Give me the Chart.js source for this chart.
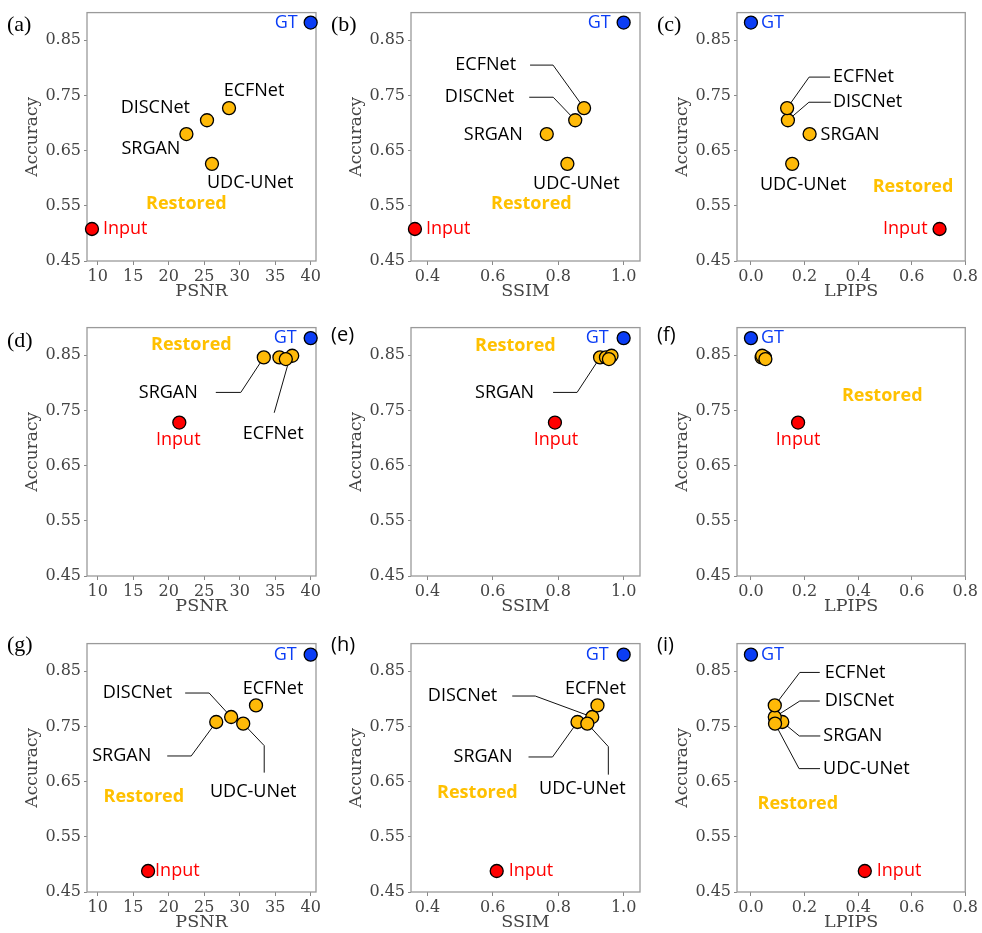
<!DOCTYPE html>
<html><head><meta charset="utf-8">
<script src="https://cdn.jsdelivr.net/npm/chart.js@4.4.1/dist/chart.umd.min.js"></script>
<style>
html,body{margin:0;padding:0;background:#fff;overflow:hidden;width:982px;height:933px;position:relative;}
canvas{position:absolute;}
</style></head><body>
<canvas id="pa" width="330" height="302" style="left:0px;top:0px"></canvas>
<canvas id="pb" width="330" height="302" style="left:324px;top:0px"></canvas>
<canvas id="pc" width="330" height="302" style="left:650px;top:0px"></canvas>
<canvas id="pd" width="330" height="302" style="left:0px;top:315px"></canvas>
<canvas id="pe" width="330" height="302" style="left:324px;top:315px"></canvas>
<canvas id="pf" width="330" height="302" style="left:650px;top:315px"></canvas>
<canvas id="pg" width="330" height="302" style="left:0px;top:631px"></canvas>
<canvas id="ph" width="330" height="302" style="left:324px;top:631px"></canvas>
<canvas id="pi" width="330" height="302" style="left:650px;top:631px"></canvas>
<script>
// ---------------- DATA ----------------
const methods = ['SRGAN', 'DISCNet', 'ECFNet', 'UDC-UNet'];

// Row 1 (a,b,c)
const accRestored1 = [0.680, 0.705, 0.727, 0.626];
const accInput1 = 0.508, accGT1 = 0.882;
const psnrRestored1 = [22.5, 25.4, 28.5, 26.1];
const psnrInput1 = 9.2, psnrGT1 = 40;
const ssimRestored1 = [0.765, 0.852, 0.879, 0.828];
const ssimInput1 = 0.362, ssimGT1 = 1.0;
const lpipsRestored1 = [0.219, 0.138, 0.135, 0.154];
const lpipsInput1 = 0.704, lpipsGT1 = 0.0;

// Row 2 (d,e,f)
const accRestored2 = [0.846, 0.846, 0.849, 0.843];
const accInput2 = 0.728, accGT2 = 0.881;
const psnrRestored2 = [33.4, 35.6, 37.4, 36.5];
const psnrInput2 = 21.5, psnrGT2 = 40;
const ssimRestored2 = [0.928, 0.946, 0.963, 0.955];
const ssimInput2 = 0.790, ssimGT2 = 1.0;
const lpipsRestored2 = [0.052, 0.040, 0.042, 0.054];
const lpipsInput2 = 0.176, lpipsGT2 = 0.0;

// Row 3 (g,h,i)
const accRestored3 = [0.758, 0.767, 0.788, 0.755];
const accInput3 = 0.488, accGT3 = 0.880;
const psnrRestored3 = [26.7, 28.8, 32.3, 30.5];
const psnrInput3 = 17.1, psnrGT3 = 40;
const ssimRestored3 = [0.859, 0.904, 0.920, 0.889];
const ssimInput3 = 0.612, ssimGT3 = 1.0;
const lpipsRestored3 = [0.117, 0.089, 0.089, 0.090];
const lpipsInput3 = 0.425, lpipsGT3 = 0.0;

// Tick labels
const accTicks = [0.45, 0.55, 0.65, 0.75, 0.85];
const psnrTicks = [10, 15, 20, 25, 30, 35, 40];
const ssimTicks = [0.4, 0.6, 0.8, 1.0];
const lpipsTicks = [0.0, 0.2, 0.4, 0.6, 0.8];

// ---------------- STYLE ----------------
const GOLD = '#FFBA08', GOLD_TXT = '#FFC000', RED = '#FF0000', BLUE = '#0B3DF5';
const TICK_COLOR = '#444';
const FRAME = '#9a9a9a';
const NOTE_FONT = '18px "Open Sans"';

const axisDefs = {
  PSNR:  {min: 8.5,   max: 40.75, ticks: psnrTicks,  fmt: v => String(v)},
  SSIM:  {min: 0.35,  max: 1.05,  ticks: ssimTicks,  fmt: v => v.toFixed(1)},
  LPIPS: {min: -0.052, max: 0.8,  ticks: lpipsTicks, fmt: v => v.toFixed(1)}
};

// Annotation layouts: ref = method index / 'gt' / 'in'; dx,dy in px from the point
const notesA = [
  {ref:'gt', text:'GT', dx:-13, dy:0, align:'right', color:BLUE},
  {ref:'in', text:'Input', dx:11, dy:0, align:'left', color:RED},
  {ref:2, text:methods[2], dx:25, dy:-17, align:'center'},
  {ref:1, text:methods[1], dx:-17, dy:-12, align:'right'},
  {ref:0, text:methods[0], dx:-6, dy:15, align:'right'},
  {ref:3, text:methods[3], dx:-5, dy:19, align:'left'}
];
const notesB = [
  {ref:'gt', text:'GT', dx:-13, dy:0, align:'right', color:BLUE},
  {ref:'in', text:'Input', dx:11, dy:0, align:'left', color:RED},
  {ref:2, text:methods[2], dx:-68, dy:-43, align:'right', leader:[[-54,-43],[-31,-43],[0,0]]},
  {ref:1, text:methods[1], dx:-61, dy:-23, align:'right', leader:[[-46,-23],[-22,-23],[0,0]]},
  {ref:0, text:methods[0], dx:-24, dy:1, align:'right'},
  {ref:3, text:methods[3], dx:9, dy:20, align:'center'}
];
const notesC = [
  {ref:'gt', text:'GT', dx:10, dy:0, align:'left', color:BLUE},
  {ref:'in', text:'Input', dx:-12, dy:0, align:'right', color:RED},
  {ref:2, text:methods[2], dx:46, dy:-31, align:'left', leader:[[0,0],[22,-31],[43,-31]]},
  {ref:1, text:methods[1], dx:45, dy:-18, align:'left', leader:[[0,0],[21,-18],[43,-18]]},
  {ref:0, text:methods[0], dx:11, dy:1, align:'left'},
  {ref:3, text:methods[3], dx:11, dy:21, align:'center'}
];
const notesD = [
  {ref:'gt', text:'GT', dx:-14, dy:0, align:'right', color:BLUE},
  {ref:'in', text:'Input', dx:-1, dy:17, align:'center', color:RED},
  {ref:0, text:methods[0], dx:-66, dy:35, align:'right', leader:[[-48,35],[-23,35],[0,0]]},
  {ref:2, text:methods[2], dx:-19, dy:78, align:'center', leader:[[-18,57],[-3,4]]}
];
const notesE = [
  {ref:'gt', text:'GT', dx:-15, dy:0, align:'right', color:BLUE},
  {ref:'in', text:'Input', dx:1, dy:17, align:'center', color:RED},
  {ref:0, text:methods[0], dx:-66, dy:35, align:'right', leader:[[-47,35],[-23,35],[0,0]]}
];
const notesF = [
  {ref:'gt', text:'GT', dx:10, dy:0, align:'left', color:BLUE},
  {ref:'in', text:'Input', dx:0, dy:17, align:'center', color:RED}
];
const notesG = [
  {ref:'gt', text:'GT', dx:-14, dy:0, align:'right', color:BLUE},
  {ref:'in', text:'Input', dx:7, dy:0, align:'left', color:RED},
  {ref:2, text:methods[2], dx:17, dy:-17, align:'center'},
  {ref:1, text:methods[1], dx:-59, dy:-24, align:'right', leader:[[-46,-24],[-22,-24],[0,0]]},
  {ref:0, text:methods[0], dx:-65, dy:34, align:'right', leader:[[-49,34],[-25,34],[0,0]]},
  {ref:3, text:methods[3], dx:10, dy:68, align:'center', leader:[[0,0],[21,22],[21,49]]}
];
const notesH = [
  {ref:'gt', text:'GT', dx:-15, dy:0, align:'right', color:BLUE},
  {ref:'in', text:'Input', dx:12, dy:0, align:'left', color:RED},
  {ref:2, text:methods[2], dx:-2, dy:-17, align:'center'},
  {ref:1, text:methods[1], dx:-95, dy:-21, align:'right', leader:[[-80,-21],[-57,-21],[0,0]]},
  {ref:0, text:methods[0], dx:-65, dy:35, align:'right', leader:[[-49,35],[-25,35],[0,0]]},
  {ref:3, text:methods[3], dx:-5, dy:65, align:'center', leader:[[0,0],[21,23],[21,51]]}
];
const notesI = [
  {ref:'gt', text:'GT', dx:10, dy:0, align:'left', color:BLUE},
  {ref:'in', text:'Input', dx:12, dy:0, align:'left', color:RED},
  {ref:2, text:methods[2], dx:50, dy:-33, align:'left', leader:[[0,0],[25,-33],[45,-33]]},
  {ref:1, text:methods[1], dx:50, dy:-16, align:'left', leader:[[0,0],[25,-16],[45,-16]]},
  {ref:0, text:methods[0], dx:41, dy:14, align:'left', leader:[[0,0],[17,14],[38,14]]},
  {ref:3, text:methods[3], dx:48, dy:45, align:'left', leader:[[0,0],[24,45],[45,45]]}
];

const SERIF_LETTER = '22px "Liberation Serif"';
const SANS_LETTER = '20px "Open Sans"';

const panels = [
  {id:'pa', letter:'(a)', lf:SERIF_LETTER, ly:25, metric:'PSNR',  xs:psnrRestored1,  xIn:psnrInput1,  xGT:psnrGT1,  ys:accRestored1, yIn:accInput1, yGT:accGT1, notes:notesA, restored:[22.5, 0.554]},
  {id:'pb', letter:'(b)', lf:SERIF_LETTER, ly:25, metric:'SSIM',  xs:ssimRestored1,  xIn:ssimInput1,  xGT:ssimGT1,  ys:accRestored1, yIn:accInput1, yGT:accGT1, notes:notesB, restored:[0.718, 0.553]},
  {id:'pc', letter:'(c)', lf:SERIF_LETTER, ly:25, metric:'LPIPS', xs:lpipsRestored1, xIn:lpipsInput1, xGT:lpipsGT1, ys:accRestored1, yIn:accInput1, yGT:accGT1, notes:notesC, restored:[0.605, 0.584]},
  {id:'pd', letter:'(d)', lf:SERIF_LETTER, ly:26, metric:'PSNR',  xs:psnrRestored2,  xIn:psnrInput2,  xGT:psnrGT2,  ys:accRestored2, yIn:accInput2, yGT:accGT2, notes:notesD, restored:[23.2, 0.868]},
  {id:'pe', letter:'(e)', lf:SANS_LETTER,  ly:20, metric:'SSIM',  xs:ssimRestored2,  xIn:ssimInput2,  xGT:ssimGT2,  ys:accRestored2, yIn:accInput2, yGT:accGT2, notes:notesE, restored:[0.669, 0.867]},
  {id:'pf', letter:'(f)', lf:SANS_LETTER,  ly:20, metric:'LPIPS', xs:lpipsRestored2, xIn:lpipsInput2, xGT:lpipsGT2, ys:accRestored2, yIn:accInput2, yGT:accGT2, notes:notesF, restored:[0.49, 0.7765]},
  {id:'pg', letter:'(g)', lf:SERIF_LETTER, ly:14, metric:'PSNR',  xs:psnrRestored3,  xIn:psnrInput3,  xGT:psnrGT3,  ys:accRestored3, yIn:accInput3, yGT:accGT3, notes:notesG, restored:[16.5, 0.623]},
  {id:'ph', letter:'(h)', lf:SANS_LETTER,  ly:14, metric:'SSIM',  xs:ssimRestored3,  xIn:ssimInput3,  xGT:ssimGT3,  ys:accRestored3, yIn:accInput3, yGT:accGT3, notes:notesH, restored:[0.553, 0.629]},
  {id:'pi', letter:'(i)', lf:SANS_LETTER,  ly:14, metric:'LPIPS', xs:lpipsRestored3, xIn:lpipsInput3, xGT:lpipsGT3, ys:accRestored3, yIn:accInput3, yGT:accGT3, notes:notesI, restored:[0.175, 0.61]}
];

function refPoint(chart, ref) {
  if (ref === 'in') return chart.getDatasetMeta(0).data[0];
  if (ref === 'gt') return chart.getDatasetMeta(1).data[0];
  return chart.getDatasetMeta(2).data[ref];
}

const notesPlugin = {
  id: 'notes',
  beforeDatasetsDraw(chart, args, opts) {
    const ctx = chart.ctx, a = chart.chartArea;
    ctx.save();
    ctx.strokeStyle = FRAME; ctx.lineWidth = 1.3;
    ctx.strokeRect(a.left, a.top, a.right - a.left, a.bottom - a.top);
    ctx.strokeStyle = '#111'; ctx.lineWidth = 1;
    for (const n of opts.items) {
      if (!n.leader) continue;
      const p = refPoint(chart, n.ref);
      ctx.beginPath();
      n.leader.forEach(([dx, dy], i) => {
        if (i === 0) ctx.moveTo(p.x + dx, p.y + dy); else ctx.lineTo(p.x + dx, p.y + dy);
      });
      ctx.stroke();
    }
    ctx.restore();
  },
  afterDatasetsDraw(chart, args, opts) {
    const ctx = chart.ctx;
    ctx.save();
    ctx.textBaseline = 'middle';
    ctx.font = NOTE_FONT;
    for (const n of opts.items) {
      const p = refPoint(chart, n.ref);
      ctx.fillStyle = n.color || '#000';
      ctx.textAlign = n.align;
      ctx.fillText(n.text, p.x + n.dx, p.y + n.dy);
    }
    // "Restored" group label
    const rx = chart.scales.x.getPixelForValue(opts.restored[0]);
    const ry = chart.scales.y.getPixelForValue(opts.restored[1]);
    ctx.font = 'bold 18px "Open Sans"';
    ctx.fillStyle = GOLD_TXT; ctx.textAlign = 'center';
    ctx.fillText('Restored', rx, ry);
    // panel letter
    ctx.font = opts.letterFont; ctx.fillStyle = '#000'; ctx.textAlign = 'left';
    ctx.fillText(opts.letter, 7, opts.letterY);
    ctx.restore();
  }
};

function makePanel(p) {
  const ax = axisDefs[p.metric];
  const pts = p.xs.map((x, i) => ({x: x, y: p.ys[i]}));
  new Chart(document.getElementById(p.id), {
    type: 'scatter',
    data: {
      datasets: [
        {label: 'Input', data: [{x: p.xIn, y: p.yIn}], backgroundColor: RED, borderColor: '#000', borderWidth: 1.3, pointRadius: 6.5, clip: false},
        {label: 'GT', data: [{x: p.xGT, y: p.yGT}], backgroundColor: BLUE, borderColor: '#000', borderWidth: 1.3, pointRadius: 6.5, clip: false},
        {label: 'Restored', data: pts, backgroundColor: GOLD, borderColor: '#000', borderWidth: 1.3, pointRadius: 6.5, clip: false}
      ]
    },
    options: {
      responsive: false, animation: false, events: [],
      layout: {padding: {left: 0, top: 9, right: 14, bottom: 0}},
      plugins: {
        legend: {display: false}, tooltip: {enabled: false},
        notes: {items: p.notes, restored: p.restored, letter: p.letter, letterFont: p.lf, letterY: p.ly}
      },
      scales: {
        x: {
          type: 'linear', min: ax.min, max: ax.max,
          afterBuildTicks: s => { s.ticks = ax.ticks.map(v => ({value: v})); },
          afterFit: s => { s.height = 41; },
          grid: {display: true, drawOnChartArea: false, drawTicks: true, tickLength: 4, color: '#888'},
          border: {display: false},
          ticks: {autoSkip: false, maxRotation: 0, padding: 2, color: TICK_COLOR,
                  font: {family: 'DejaVu Serif', size: 16}, callback: v => ax.fmt(v)},
          title: {display: true, text: p.metric, color: TICK_COLOR, padding: {top: 0, bottom: 0},
                  font: {family: 'DejaVu Serif', size: 17.5, lineHeight: 1.2}}
        },
        y: {
          type: 'linear', min: 0.45, max: 0.90,
          afterBuildTicks: s => { s.ticks = accTicks.map(v => ({value: v})); },
          afterFit: s => { s.width = 87; },
          grid: {display: true, drawOnChartArea: false, drawTicks: true, tickLength: 3, color: '#888'},
          border: {display: false},
          ticks: {autoSkip: false, padding: 3, color: TICK_COLOR,
                  font: {family: 'DejaVu Serif', size: 16}, callback: v => v.toFixed(2)},
          title: {display: true, text: 'Accuracy', color: TICK_COLOR, padding: {top: 22, bottom: 0},
                  font: {family: 'DejaVu Serif', size: 17, lineHeight: 1.2}}
        }
      }
    },
    plugins: [notesPlugin]
  });
}
panels.forEach(makePanel);
</script>
</body></html>
